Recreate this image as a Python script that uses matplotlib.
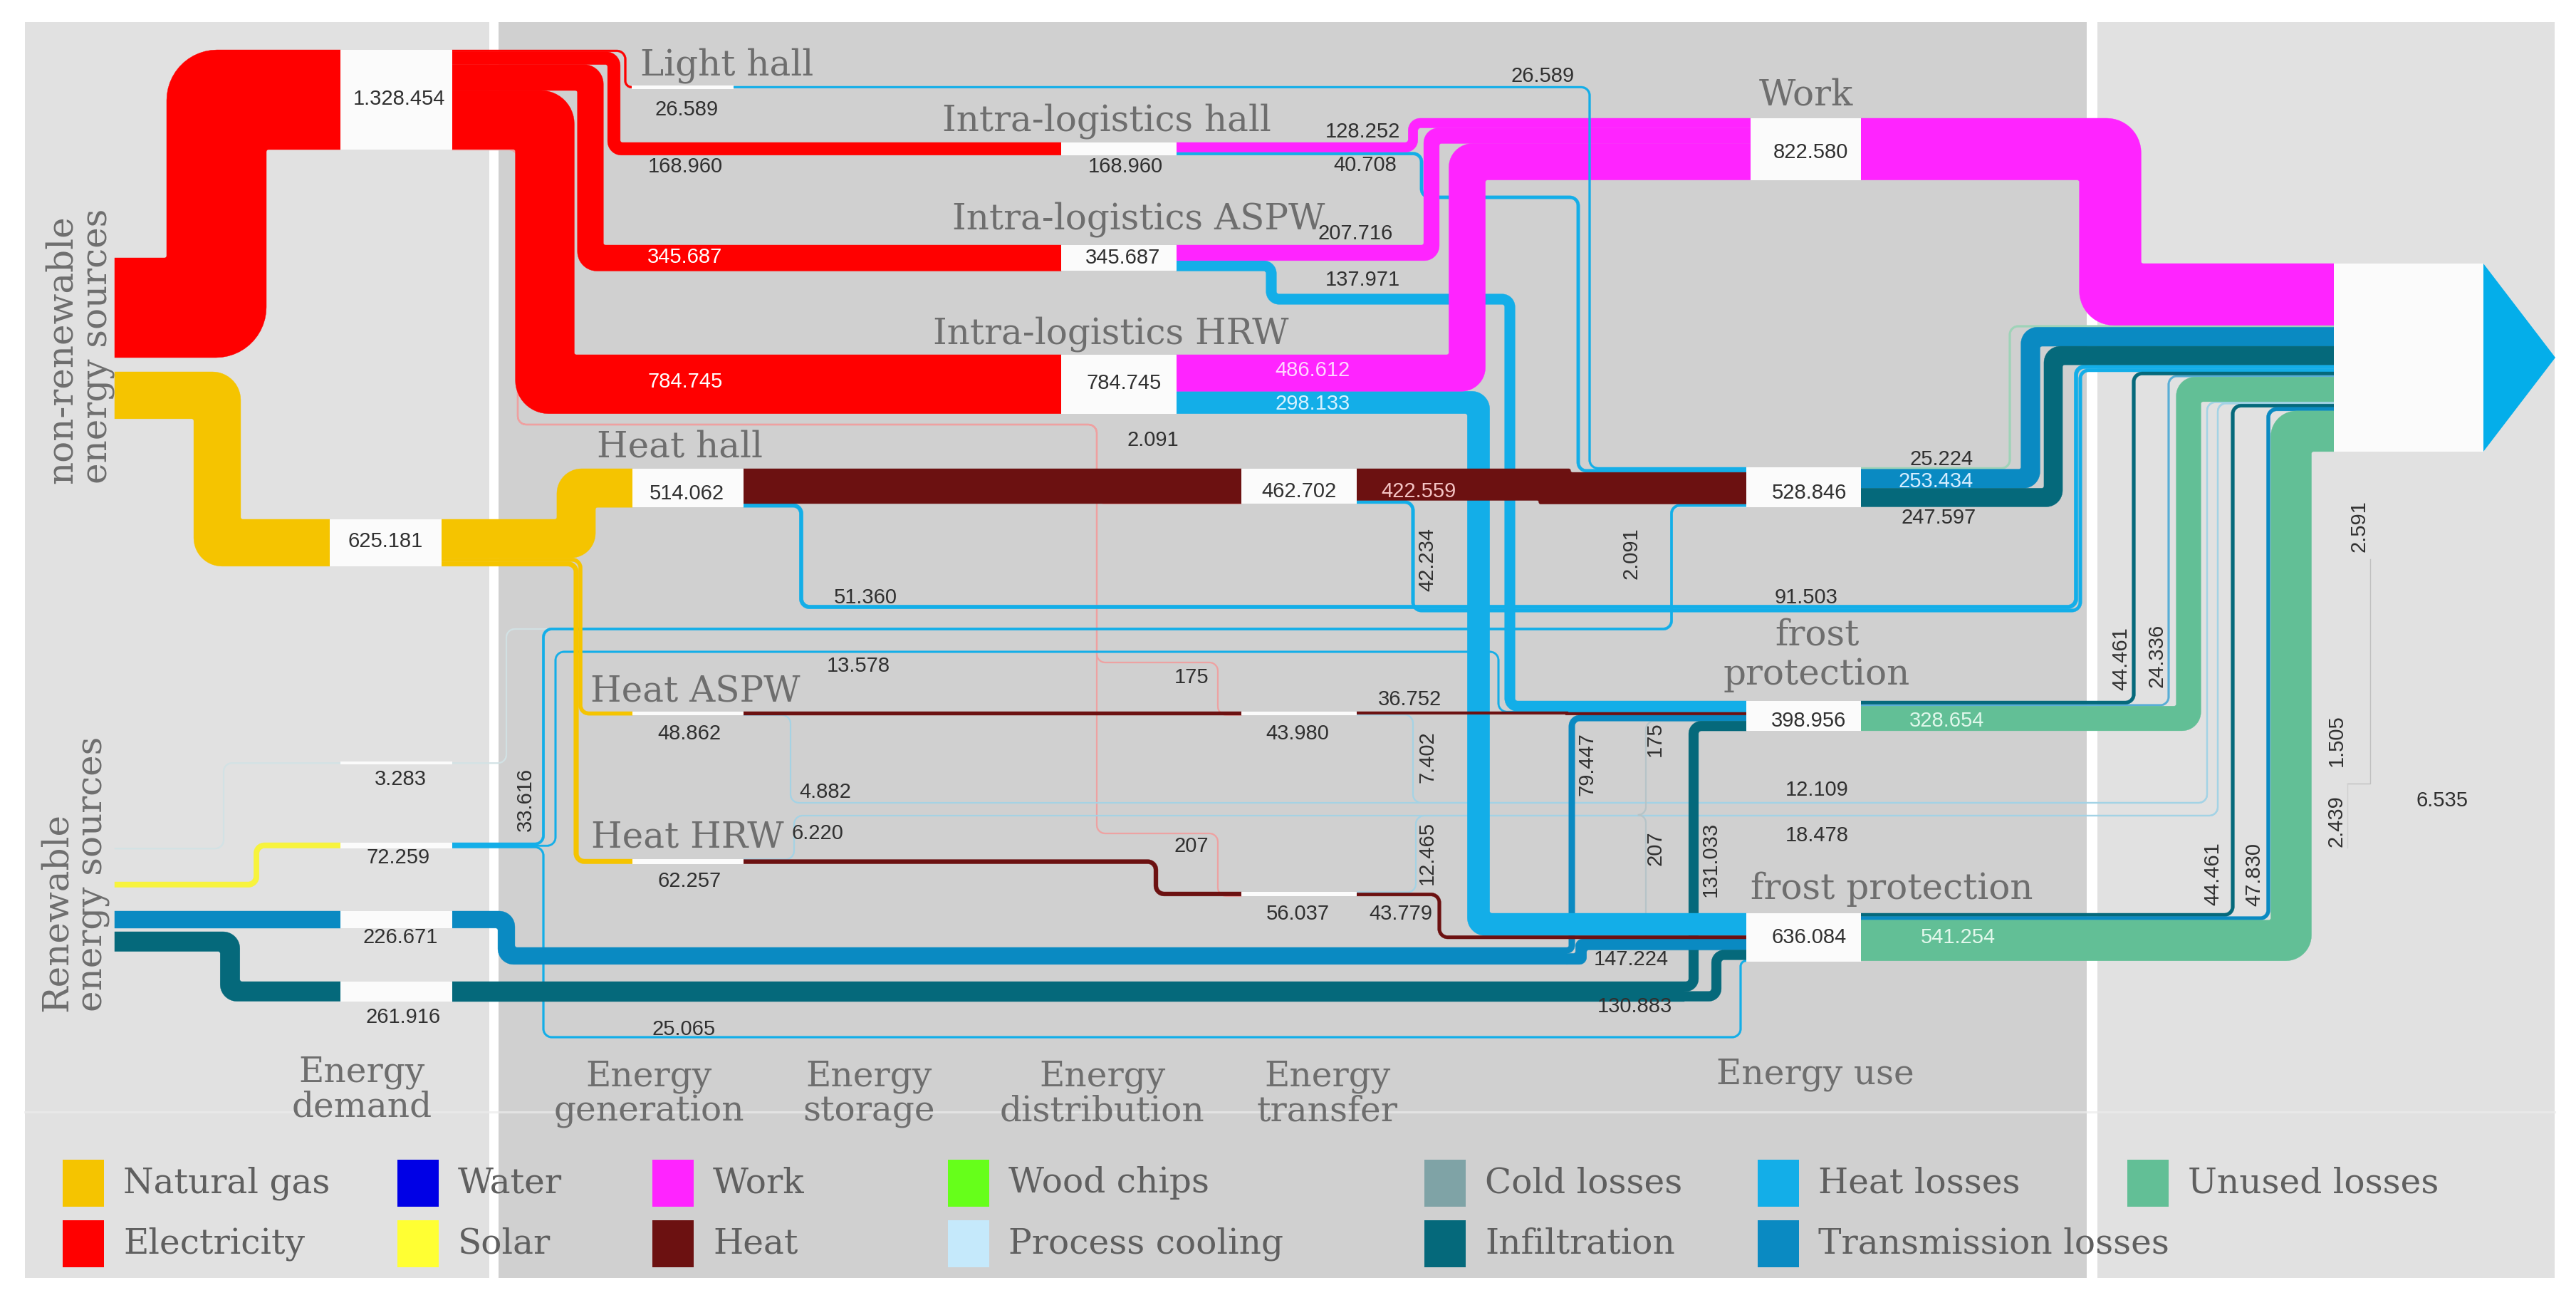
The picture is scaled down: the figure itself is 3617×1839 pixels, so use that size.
import numpy as np
import matplotlib
matplotlib.use("Agg")
import matplotlib.pyplot as plt
from matplotlib.patches import Polygon, Rectangle

# ======================= DATA =======================
# flows of the energy Sankey (values in kWh as printed in the chart)
flow_src = ["E0", "G0", "C0", "S0", "T0", "I0",
            "E1", "E1", "E1", "E1", "E1", "E1", "E1",
            "IH", "IA", "IR", "LH", "IH", "IA", "IR",
            "G1", "G1", "G1", "HH", "HH", "HA", "HA", "HR", "HR",
            "DH", "DH", "DA", "DA", "DR", "DR",
            "S1", "C1", "S1", "S1", "T1", "I1", "JT", "JT", "J5", "J5", "JI", "JI",
            "W", "UH", "UH", "UH", "UA", "UA", "UA", "UR", "UR", "UR"]
flow_dst = ["E1", "G1", "C1", "S1", "T1", "I1",
            "LH", "IH", "IA", "IR", "DH", "DA", "DR",
            "W", "W", "W", "UH", "UH", "UA", "UR",
            "HH", "HA", "HR", "DH", "K", "DA", "K", "K", "DR",
            "UH", "K", "UA", "K", "K", "UR",
            "UH", "UH", "UA", "UR", "JT", "JI", "UA", "UR", "UA", "UR", "UA", "UR",
            "K", "K", "K", "K", "K", "K", "K", "K", "K", "K"]
flow_value = [1328454, 625181, 3283, 72259, 226671, 261916,
              26589, 168960, 345687, 784745, 2091, 175, 207,
              128252, 207716, 486612, 26589, 40708, 137971, 298133,
              514062, 48862, 62257, 462702, 51360, 43980, 4882, 6220, 56037,
              422559, 42234, 36752, 7402, 12465, 43779,
              33616, 3283, 13578, 25065, 226671, 261916, 79447, 147224, 175, 207, 131033, 130883,
              822580, 25224, 253434, 247597, 44461, 24336, 328654, 44461, 47830, 541254]
flow_type = ["elec", "gas", "cool", "solar", "trans", "infil",
             "elec", "elec", "elec", "elec", "elec_thin", "elec_thin", "elec_thin",
             "work", "work", "work", "heatloss", "heatloss", "heatloss", "heatloss",
             "gas", "gas", "gas", "heat", "heatloss", "heat", "pale", "pale", "heat",
             "heat", "heatloss", "heat", "pale", "pale", "heat",
             "heatloss", "cool", "heatloss", "heatloss", "trans", "infil", "trans", "trans", "gray", "gray", "infil", "infil",
             "work", "unused_thin", "trans", "infil", "infil", "lightblue", "unused", "infil", "trans", "unused"]

# node names / labels
node_names = {"LH": "Light hall", "IH": "Intra-logistics hall", "IA": "Intra-logistics ASPW",
              "IR": "Intra-logistics HRW", "HH": "Heat hall", "HA": "Heat ASPW", "HR": "Heat HRW",
              "W": "Work"}
categories = ["Energy\ndemand", "Energy\ngeneration", "Energy\nstorage",
              "Energy\ndistribution", "Energy\ntransfer", "Energy use"]
group_labels = ["non-renewable\nenergy sources", "Renewable\nenergy sources"]
legend_labels = ["Natural gas", "Water", "Work", "Wood chips", "Cold losses", "Heat losses", "Unused losses",
                 "Electricity", "Solar", "Heat", "Process cooling", "Infiltration", "Transmission losses"]
legend_colors = ["#f5c400", "#0000e6", "#ff24ff", "#66ff1a", "#7fa3a6", "#13aee8", "#62bf96",
                 "#ff0000", "#ffff33", "#6c1111", "#c5e9fb", "#05697b", "#0a8ac2"]

# ======================= LAYOUT / STYLE =======================
S = 140.0 / 1328454.0  # px per kWh

node_layout = {  # x0, x1, ytop
    "E0": (161, 161, 362), "G0": (161, 161, 522), "C0": (161, 161, 1191),
    "S0": (161, 161, 1238), "T0": (161, 161, 1279), "I0": (161, 161, 1308),
    "E1": (478, 635, 70), "G1": (463, 620, 729), "C1": (478, 635, 1071),
    "S1": (478, 635, 1183), "T1": (478, 635, 1279), "I1": (478, 635, 1378),
    "LH": (887, 1030, 121), "HH": (888, 1044, 658), "HA": (888, 1044, 999), "HR": (888, 1044, 1206),
    "IH": (1490, 1652, 200), "IA": (1490, 1652, 344), "IR": (1490, 1652, 498),
    "DH": (1743, 1905, 658), "DA": (1743, 1905, 999), "DR": (1743, 1905, 1252),
    "W": (2458, 2613, 166), "UH": (2452, 2613, 656), "UA": (2452, 2613, 984), "UR": (2452, 2613, 1282),
    "K": (3277, 3487, 370),
    "JT": (2200, 2200, 1330), "JI": (2365, 2365, 1378), "J5": (2300, 2300, 1144),
}
boxed = ["E1", "G1", "C1", "S1", "T1", "I1", "LH", "HH", "HA", "HR", "IH", "IA", "IR",
         "DH", "DA", "DR", "W", "UH", "UA", "UR", "K"]

flow_route = [[304], [305], [314], [360], [], [323],
              [878], [862], [829], [765], [727, 596, 1540], [727, 596, 1540, 930, 1710], [727, 596, 1540, 1170, 1710],
              [1984], [2010], [2060], [2232], [1996, 277, 2216], [1785, 420, 2120], [2076],
              [809], [815], [809], [], [1125, 852, 2915], [], [1110, 1127, 3099], [1115, 1145, 3114], [1623],
              [2183], [1984, 857, 2921], [2200], [1984, 1127, 3099], [1988, 1145, 3114], [2021],
              [763, 883, 2347], [711, 883, 2347], [780, 915, 2104], [763, 1456, 2444], [711], [],
              [2207], [2220], [2311], [2311], [2378], [2410],
              [2963], [2822], [2851], [2883], [2996], [3045], [3073], [3135], [3185], [3217]]

in_order = {
    "K": [47, 48, 49, 50, 24, 30, 51, 52, 53, 26, 32, 27, 33, 54, 55, 56],
    "UA": [18, 37, 31, 41, 43, 45],
    "UR": [19, 34, 42, 44, 46, 38],
    "DH": [23, 10], "DA": [25, 11], "DR": [28, 12],
}

colors = {"elec": "#ff0000", "elec_thin": "#f0a0a0", "gas": "#f5c400", "cool": "#d2e2e5",
          "solar": "#f7f33c", "trans": "#0a8ac2", "infil": "#05697b", "work": "#ff24ff",
          "heat": "#6c1111", "heatloss": "#13aee8", "pale": "#a3d3e6", "unused": "#62bf96",
          "unused_thin": "#9ed3b8", "lightblue": "#58aed6", "gray": "#b5c4c8"}
zorders = {"heat": 3.2, "work": 4.0, "elec_thin": 2.1, "pale": 2.2, "cool": 2.15, "gray": 2.2}

NUM_FONT = ["Liberation Sans", "DejaVu Sans"]
SERIF = ["DejaVu Serif"]
LABEL_GREY = "#6e6e6e"

# ======================= GEOMETRY HELPERS =======================
def perp(d):
    return np.array([-d[1], d[0]])


def build_path(x0, y0, x1, y1, route):
    if abs(y1 - y0) < 0.6 and len(route) <= 1:
        y1 = y0
    pts = [(x0, y0)]
    cx, cy = x0, y0
    if not route:
        if abs(y1 - y0) > 0.5:
            xm = (x0 + x1) / 2.0
            pts += [(xm, y0), (xm, y1)]
    else:
        for k, v in enumerate(route):
            if k % 2 == 0:
                cx = v
            else:
                cy = v
            pts.append((cx, cy))
        if len(route) % 2 == 1:
            pts.append((cx, y1))
    pts.append((x1, y1))
    pts = [np.array(p, dtype=float) for p in pts]
    clean = [pts[0]]
    for p in pts[1:]:
        if np.hypot(*(p - clean[-1])) > 0.3:
            clean.append(p)
    changed = True
    while changed and len(clean) > 2:
        changed = False
        for i in range(1, len(clean) - 1):
            a = clean[i] - clean[i - 1]
            b = clean[i + 1] - clean[i]
            if abs(a[0] * b[1] - a[1] * b[0]) < 1e-6 and np.dot(a, b) > 0:
                del clean[i]
                changed = True
                break
    return clean


def band_polygon(pts, w):
    n = len(pts)
    dirs = []
    for i in range(n - 1):
        d = pts[i + 1] - pts[i]
        dirs.append(d / np.hypot(*d))
    hw = w / 2.0
    R_out = 12 + 0.42 * w
    r_in = max(R_out - w, 3.0)
    sides = []
    for s in (1, -1):
        poly = []
        for i in range(n):
            if i == 0:
                q = pts[0] + s * hw * perp(dirs[0])
            elif i == n - 1:
                q = pts[-1] + s * hw * perp(dirs[-1])
            else:
                q = pts[i] + s * hw * perp(dirs[i - 1]) + s * hw * perp(dirs[i])
            poly.append(q)
        out = [poly[0]]
        for i in range(1, n - 1):
            d1, d2 = dirs[i - 1], dirs[i]
            inside = np.dot(s * perp(d1), d2) > 0
            R = r_in if inside else R_out
            L1 = np.dot(poly[i] - poly[i - 1], d1)
            L2 = np.dot(poly[i + 1] - poly[i], d2)
            lim1 = L1 if i - 1 == 0 else L1 / 2.0
            lim2 = L2 if i + 1 == n - 1 else L2 / 2.0
            R = max(0.0, min(R, lim1, lim2))
            if R < 0.2:
                out.append(poly[i])
                continue
            A = poly[i] - d1 * R
            C = A + d2 * R
            for t in np.linspace(0, np.pi / 2, 14):
                out.append(C - d2 * R * np.cos(t) + d1 * R * np.sin(t))
        out.append(poly[-1])
        sides.append(out)
    return np.array(sides[0] + sides[1][::-1])


# ======================= FIGURE =======================
fig = plt.figure(figsize=(36.17, 18.39), dpi=100)
ax = fig.add_axes([0, 0, 1, 1])
ax.set_xlim(0, 3617)
ax.set_ylim(1839, 0)
ax.axis("off")

# background panels
ax.add_patch(Rectangle((35, 31), 652, 1763, facecolor="#e1e1e1", edgecolor="none", zorder=0))
ax.add_patch(Rectangle((700, 31), 2230, 1763, facecolor="#d0d0d0", edgecolor="none", zorder=0))
ax.add_patch(Rectangle((2945, 31), 642, 1763, facecolor="#e1e1e1", edgecolor="none", zorder=0))
ax.plot([35, 3587], [1561, 1561], color="#ececec", lw=2.2, alpha=0.7, zorder=0.5)

# stacking of flows on nodes
out_lists = {k: [] for k in node_layout}
in_lists = {k: [] for k in node_layout}
for i, (s, d) in enumerate(zip(flow_src, flow_dst)):
    out_lists[s].append(i)
    in_lists[d].append(i)
for k, order in in_order.items():
    in_lists[k] = order
ys, yd = {}, {}
for k, lst in out_lists.items():
    y = node_layout[k][2]
    for i in lst:
        w = flow_value[i] * S
        ys[i] = y + w / 2
        y += w
for k, lst in in_lists.items():
    y = node_layout[k][2]
    for i in lst:
        w = flow_value[i] * S
        yd[i] = y + w / 2
        y += w

# flows
for i in range(len(flow_src)):
    s, d = flow_src[i], flow_dst[i]
    t = flow_type[i]
    w_true = flow_value[i] * S
    minw = 1.8 if t in ("pale", "cool", "gray", "elec_thin") else 2.4
    w = max(w_true, minw)
    pts = build_path(node_layout[s][1], ys[i], node_layout[d][0], yd[i], flow_route[i])
    poly = band_polygon(pts, w)
    z = zorders.get(t, 3.0)
    if w < 4 and t not in zorders:
        z = 2.3
    if i in (41, 45):
        z = 2.5
    if i == 16:
        z = 4.5
    ax.add_patch(Polygon(poly, closed=True, facecolor=colors[t], edgecolor=colors[t],
                         lw=0.3, zorder=z))

# node boxes
for k in boxed:
    x0, x1, yt = node_layout[k]
    tin = sum(flow_value[i] for i in in_lists[k])
    tout = sum(flow_value[i] for i in out_lists[k])
    h = max(tin, tout) * S
    hh = max(h, 4.5)
    ax.add_patch(Rectangle((x0, yt + h / 2 - hh / 2), x1 - x0, hh, facecolor="#fbfbfb",
                           edgecolor="none", zorder=6))
    if k == "K":
        ax.add_patch(Polygon([(x1, yt), (x1 + 101, yt + h / 2), (x1, yt + h)], closed=True,
                             facecolor="#04aeea", edgecolor="none", zorder=6))

# small cold-loss lines in the right panel
ax.plot([3328, 3328, 3296], [785, 1100, 1100], color="#c0c0c0", lw=1.0, zorder=2)
ax.plot([3296, 3296], [1100, 1190], color="#cfcfcf", lw=1.0, zorder=2)

# ======================= TEXT =======================
def num(t, x, y, color="#303030", rot=0, size=21):
    ax.text(x, y, t, ha="center", va="center", rotation=rot, fontsize=size,
            family=NUM_FONT, color=color, zorder=9)

value_labels = [
    ("1.328.454", 560, 139, None, 0), ("625.181", 541, 760, None, 0), ("514.062", 964, 693, None, 0),
    ("462.702", 1824, 690, None, 0), ("345.687", 1577, 362, None, 0), ("784.745", 1578, 538, None, 0),
    ("168.960", 1580, 234, None, 0), ("822.580", 2542, 214, None, 0), ("528.846", 2540, 692, None, 0),
    ("398.956", 2540, 1012, None, 0), ("636.084", 2540, 1316, None, 0),
    ("26.589", 964, 154, None, 0), ("168.960", 962, 234, None, 0),
    ("345.687", 962, 361, "#ffffff", 0), ("784.745", 962, 536, "#ffffff", 0),
    ("26.589", 2166, 107, None, 0), ("128.252", 1913, 185, None, 0), ("40.708", 1917, 232, None, 0),
    ("207.716", 1903, 328, None, 0), ("137.971", 1913, 393, None, 0),
    ("486.612", 1843, 520, "#ffd6ff", 0), ("298.133", 1843, 567, "#d6f2ff", 0),
    ("2.091", 1619, 618, None, 0), ("51.360", 1215, 839, None, 0), ("91.503", 2536, 839, None, 0),
    ("42.234", 2004, 785, None, 90), ("2.091", 2290, 777, None, 90), ("13.578", 1205, 935, None, 0),
    ("175", 1673, 951, None, 0), ("36.752", 1979, 982, None, 0), ("43.980", 1822, 1030, None, 0),
    ("7.402", 2004, 1063, None, 90), ("79.447", 2228, 1073, None, 90), ("175", 2324, 1038, None, 90),
    ("131.033", 2402, 1206, None, 90), ("207", 2324, 1191, None, 90), ("12.465", 2004, 1198, None, 90),
    ("207", 1673, 1188, None, 0), ("56.037", 1822, 1283, None, 0), ("43.779", 1967, 1283, None, 0),
    ("147.224", 2290, 1347, None, 0), ("130.883", 2295, 1413, None, 0),
    ("328.654", 2734, 1012, "#dff7ea", 0), ("44.461", 2978, 925, None, 90), ("24.336", 3029, 920, None, 90),
    ("12.109", 2551, 1109, None, 0), ("18.478", 2551, 1173, None, 0), ("541.254", 2749, 1316, "#e2f8ec", 0),
    ("44.461", 3107, 1227, None, 90), ("47.830", 3165, 1227, None, 90),
    ("2.591", 3312, 739, None, 90), ("1.505", 3281, 1040, None, 90), ("2.439", 3281, 1153, None, 90),
    ("6.535", 3429, 1124, None, 0), ("33.616", 738, 1122, None, 90), ("3.283", 562, 1094, None, 0),
    ("72.259", 559, 1204, None, 0), ("48.862", 968, 1030, None, 0), ("4.882", 1159, 1112, None, 0),
    ("6.220", 1148, 1170, None, 0), ("62.257", 968, 1237, None, 0), ("226.671", 562, 1316, None, 0),
    ("261.916", 566, 1428, None, 0), ("25.065", 960, 1445, None, 0), ("25.224", 2726, 645, None, 0),
    ("253.434", 2718, 676, "#d6eeff", 0), ("247.597", 2722, 727, None, 0), ("422.559", 1992, 690, "#f4c4c4", 0),
]
for t, x, y, c, r in value_labels:
    num(t, x, y, c if c else "#303030", r)

# node names (serif)
name_pos = {"LH": (899, 105), "IH": (1323, 183), "IA": (1337, 321), "IR": (1310, 482),
            "W": (2470, 147), "HH": (838, 641), "HA": (829, 985), "HR": (830, 1190)}
for k, (x, y) in name_pos.items():
    ax.text(x, y, node_names[k], ha="left", va="baseline", fontsize=36, family=SERIF,
            color=LABEL_GREY, zorder=9)
ax.text(2551, 905, "frost", ha="center", va="baseline", fontsize=36, family=SERIF, color=LABEL_GREY, zorder=9)
ax.text(2551, 961, "protection", ha="center", va="baseline", fontsize=36, family=SERIF, color=LABEL_GREY, zorder=9)
ax.text(2458, 1262, "frost protection", ha="left", va="baseline", fontsize=36, family=SERIF,
        color=LABEL_GREY, zorder=9)

# group labels (rotated)
ax.text(112, 679, group_labels[0], rotation=90, rotation_mode="anchor", ha="left", va="center",
        multialignment="left", fontsize=36, family=SERIF, color=LABEL_GREY, linespacing=1.0, zorder=9)
ax.text(105, 1420, group_labels[1], rotation=90, rotation_mode="anchor", ha="left", va="center",
        multialignment="left", fontsize=36, family=SERIF, color=LABEL_GREY, linespacing=1.0, zorder=9)

# category axis labels
cat_x = [508, 911, 1220, 1548, 1864, 2549]
cat_top = [1482, 1488, 1488, 1488, 1488, 1485]
for lab, x, yt in zip(categories, cat_x, cat_top):
    ax.text(x, yt, lab, ha="center", va="top", fontsize=35, family=SERIF, color=LABEL_GREY,
            linespacing=1.05, zorder=9)

# legend
leg_x = [88, 558, 916, 1331, 2000, 2468, 2987]
leg_y = [1661, 1746]
for j, (lab, col) in enumerate(zip(legend_labels, legend_colors)):
    row = 0 if j < 7 else 1
    colm = j if j < 7 else j - 7
    x = leg_x[colm]
    y = leg_y[row]
    ax.add_patch(Rectangle((x, y - 33), 58, 66, facecolor=col, edgecolor="none", zorder=5))
    ax.text(x + 85, y, lab, ha="left", va="center", fontsize=35, family=SERIF,
            color="#5f5f5f", zorder=9)

fig.savefig("out.png", dpi=100, facecolor="white")
